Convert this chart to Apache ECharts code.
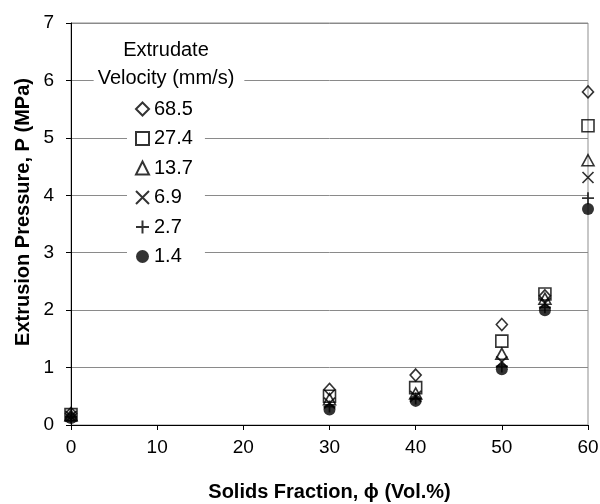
<!DOCTYPE html>
<html>
<head>
<meta charset="utf-8">
<script src="https://cdn.jsdelivr.net/npm/echarts@6/dist/echarts.min.js"></script>
<style>html,body{margin:0;padding:0;background:#fff}#c{width:600px;height:504px}</style>
</head>
<body>
<div id="c"></div>
<script>
// Solids fraction (Vol.%)
var phi = [0, 30, 40, 50, 55, 60];
// Extrusion pressure (MPa) per extrudate velocity (mm/s)
var v68_5 = [0.20, 0.62, 0.87, 1.75, 2.25, 5.80];
var v27_4 = [0.18, 0.50, 0.65, 1.46, 2.28, 5.21];
var v13_7 = [0.17, 0.45, 0.55, 1.24, 2.20, 4.61];
var v6_9  = [0.15, 0.38, 0.50, 1.10, 2.12, 4.31];
var v2_7  = [0.14, 0.32, 0.46, 1.02, 2.05, 3.95];
var v1_4  = [0.12, 0.27, 0.42, 0.97, 2.00, 3.76];
var seriesNames = ['68.5', '27.4', '13.7', '6.9', '2.7', '1.4'];
var legendTitle = 'Extrudate\nVelocity (mm/s)';

var FONT = '"Liberation Sans", Arial, sans-serif';
function pts(ys){ return phi.map(function(x,i){ return [x, ys[i]]; }); }
var openStyle = {color:'transparent', borderColor:'#000', borderWidth:1.6};
var lineStyleSym = {color:'#000', borderColor:'#000', borderWidth:1.7};

var chart = echarts.init(document.getElementById('c'), null, {renderer:'canvas'});
chart.setOption({
  animation:false,
  backgroundColor:'#fff',
  textStyle:{fontFamily:FONT},
  grid:{left:71, right:12, top:23, bottom:79, show:true, borderColor:'#8f8f8f', borderWidth:1, backgroundColor:'transparent',
        containLabel:false, outerBoundsMode:'none'},
  xAxis:{
    type:'value', min:0, max:60, interval:10,
    name:'Solids Fraction, \u03D5 (Vol.%)', nameLocation:'middle', nameGap:57,
    nameTextStyle:{fontSize:20, fontWeight:'bold', color:'#000', fontFamily:FONT},
    axisLine:{show:true, onZero:false, lineStyle:{color:'#000', width:1}},
    axisTick:{show:true, inside:false, length:5, lineStyle:{color:'#000'}},
    axisLabel:{fontSize:19, color:'#000', margin:13, fontFamily:FONT},
    splitLine:{show:false}
  },
  yAxis:{
    type:'value', min:0, max:7, interval:1,
    axisLine:{show:true, onZero:false, lineStyle:{color:'#000', width:1}},
    axisTick:{show:true, inside:false, length:5, lineStyle:{color:'#000'}},
    axisLabel:{fontSize:19, color:'#000', margin:17, fontFamily:FONT},
    splitLine:{show:true, lineStyle:{color:'#8a8a8a', width:1}}
  },
  legend:{
    orient:'vertical', left:127, top:93,
    data:seriesNames,
    selectedMode:false,
    backgroundColor:'#fff',
    padding:[6,12,6,8],
    itemWidth:13, itemHeight:13, itemGap:9.5,
    textStyle:{fontSize:20, color:'#000', fontFamily:FONT}
  },
  graphic:[
    {type:'text', z:100, x:169, y:36,
     style:{text:legendTitle, align:'center', verticalAlign:'top', font:'20px '+FONT, fill:'#000', lineHeight:28,
            backgroundColor:'#fff', padding:[0,10,2,4]}},
    {type:'text', z:100, x:23, y:212, rotation:Math.PI/2,
     style:{text:'Extrusion Pressure, P (MPa)', align:'center', verticalAlign:'middle', font:'bold 20px '+FONT, fill:'#000'}}
  ],
  series:[
    {name:seriesNames[0], type:'scatter', data:pts(v68_5), symbol:'diamond', symbolSize:[11,12], itemStyle:openStyle},
    {name:seriesNames[1], type:'scatter', data:pts(v27_4), symbol:'rect', symbolSize:12, itemStyle:openStyle},
    {name:seriesNames[2], type:'scatter', data:pts(v13_7), symbol:'triangle', symbolSize:[12,11], itemStyle:openStyle},
    {name:seriesNames[3], type:'scatter', data:pts(v6_9), symbol:'path://M0,0L10,10M10,0L0,10', symbolSize:11, itemStyle:lineStyleSym},
    {name:seriesNames[4], type:'scatter', data:pts(v2_7), symbol:'path://M0,5L10,5M5,0L5,10', symbolSize:12, itemStyle:lineStyleSym},
    {name:seriesNames[5], type:'scatter', data:pts(v1_4), symbol:'circle', symbolSize:12, itemStyle:{color:'#000', borderColor:'#000', borderWidth:0}}
  ]
});
</script>
</body>
</html>
